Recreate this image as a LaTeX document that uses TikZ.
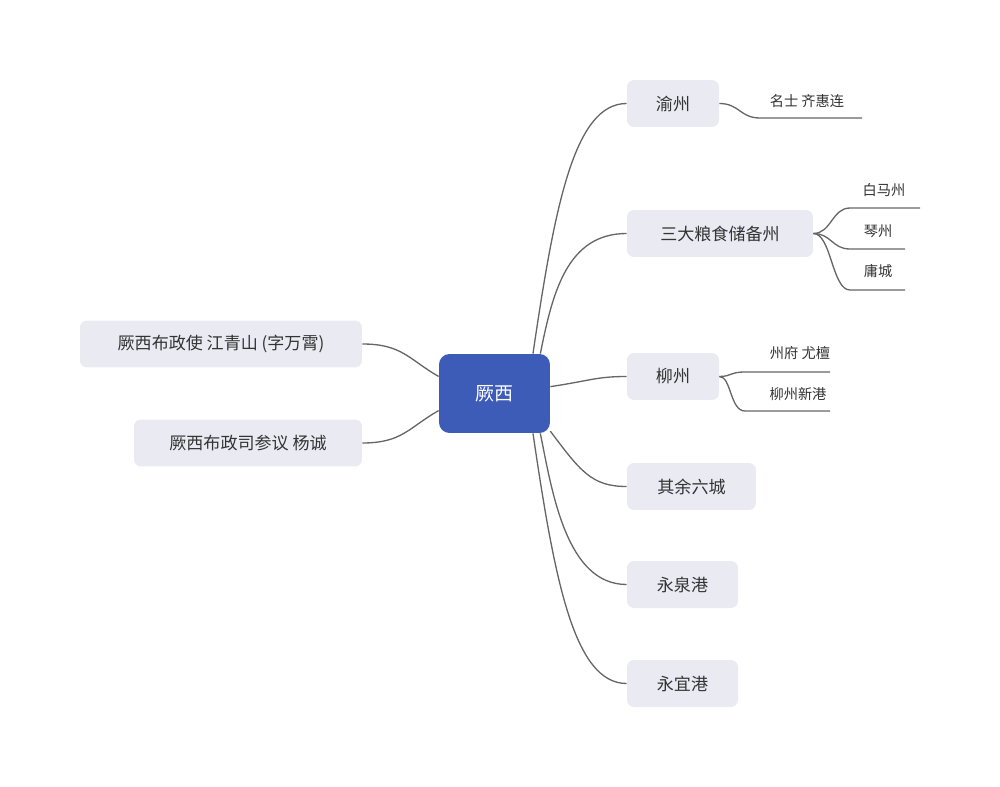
\documentclass[tikz,border=0pt]{standalone}
\usepackage{fontspec}
\setmainfont{Noto Sans CJK SC}
\definecolor{boxgrey}{HTML}{E9EAF2}
\definecolor{rootblue}{HTML}{3D5CB8}
\definecolor{linegrey}{HTML}{666666}
\definecolor{textgrey}{HTML}{333333}
\tikzset{
  topicbox/.style={fill=boxgrey, rounded corners=4pt, minimum height=0.94cm,
    text=textgrey, font=\fontsize{9.7}{11}\selectfont, inner sep=0pt},
  leaftext/.style={text=textgrey, font=\fontsize{8.1}{10}\selectfont, inner sep=0pt},
  branch/.style={draw=linegrey, line width=0.75pt},
}
\begin{document}
\begin{tikzpicture}[x=0.02cm, y=-0.02cm]
\useasboundingbox (0,0) rectangle (1000,787);
% centre
\node[fill=rootblue, rounded corners=6pt, minimum width=2.22cm, minimum height=1.58cm,
  text=white, font=\fontsize{10.8}{13}\selectfont] (root) at (494.5,393.5) {厥西};
% left hand
\node[topicbox, minimum width=5.64cm] (zheng) at (221,344) {厥西布政使 江青山 (字万霄)};
\node[topicbox, minimum width=4.56cm] (canyi) at (248,443) {厥西布政司参议 杨诚};
% right hand
\node[topicbox, minimum width=1.84cm] (yu) at (673,103.5) {渝州};
\node[topicbox, minimum width=3.72cm] (liang) at (720,233.5) {三大粮食储备州};
\node[topicbox, minimum width=1.84cm] (liu) at (673,376.5) {柳州};
\node[topicbox, minimum width=2.58cm] (liucheng) at (691.5,486.5) {其余六城};
\node[topicbox, minimum width=2.22cm] (yongquan) at (682.5,584.5) {永泉港};
\node[topicbox, minimum width=2.22cm] (yongyi) at (682.5,683.5) {永宜港};
% leaves
\node[leaftext] (qi) at (807,101) {名士 齐惠连};
\node[leaftext] (baima) at (884,190) {白马州};
\node[leaftext] (qin) at (878,231) {琴州};
\node[leaftext] (yong) at (878,271) {庸城};
\node[leaftext] (zhoufu) at (800,353) {州府 尤檀};
\node[leaftext] (xingang) at (798,394) {柳州新港};
\coordinate (qi-end) at (862,118);
\coordinate (baima-end) at (920,208);
\coordinate (qin-end) at (905,249);
\coordinate (yong-end) at (905,290);
\coordinate (zhoufu-end) at (830,372);
\coordinate (xingang-end) at (830,411);
% connectors
\draw[branch] (root.163) .. controls +(-30,-17) and +(40,0) .. (zheng.east);
\draw[branch] (root.197) .. controls +(-30,17) and +(40,0) .. (canyi.east);
\draw[branch] (root.46) .. controls +(22,-150) and +(-52,0) .. (yu.west);
\draw[branch] (root.41) .. controls +(12,-60) and +(-60,0) .. (liang.west);
\draw[branch] (root.7) .. controls +(40,-6) and +(-30,0) .. (liu.west);
\draw[branch] (root.-34) .. controls +(30,40) and +(-35,0) .. (liucheng.west);
\draw[branch] (root.-41) .. controls +(12,60) and +(-60,0) .. (yongquan.west);
\draw[branch] (root.-46) .. controls +(22,150) and +(-52,0) .. (yongyi.west);
% leaf lines
\draw[branch] (yu.east) .. controls +(20,0) and +(-20,0) .. (760,118) -- (qi-end);
\draw[branch] (liang.east) .. controls +(18,0) and +(-18,0) .. (850,208) -- (baima-end);
\draw[branch] (liang.east) .. controls +(18,0) and +(-18,0) .. (850,249) -- (qin-end);
\draw[branch] (liang.east) .. controls +(18,0) and +(-18,0) .. (850,290) -- (yong-end);
\draw[branch] (liu.east) .. controls +(12,0) and +(-15,0) .. (745,372) -- (zhoufu-end);
\draw[branch] (liu.east) .. controls +(12,0) and +(-15,0) .. (745,411) -- (xingang-end);
\end{tikzpicture}
\end{document}
